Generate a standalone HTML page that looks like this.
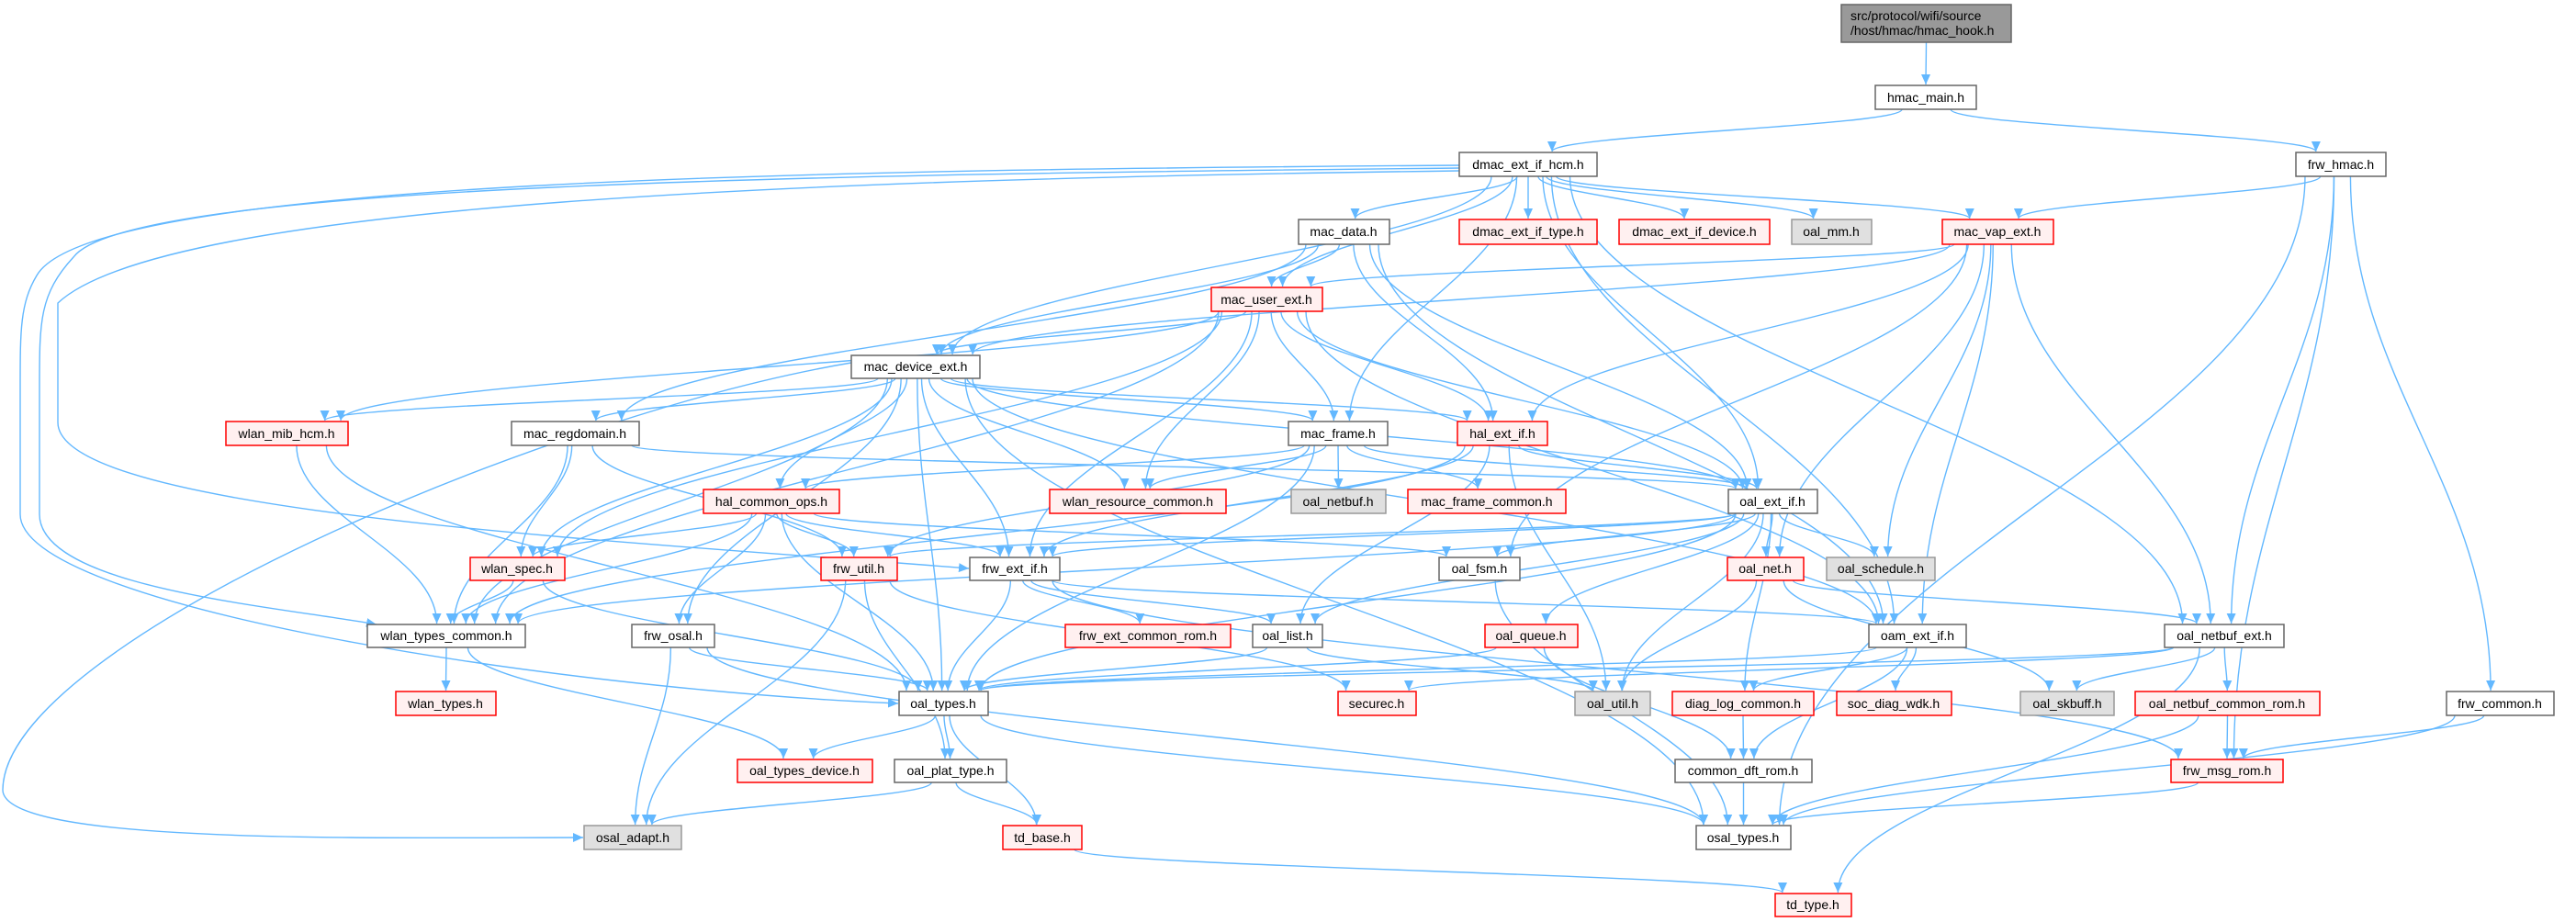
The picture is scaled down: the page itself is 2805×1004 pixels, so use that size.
<!DOCTYPE html>
<html><head><meta charset="utf-8">
<style>
html,body{margin:0;padding:0;background:#fff;}
svg{display:block;}
text{font-family:"Liberation Sans",sans-serif;font-size:14px;fill:#000;}
</style></head>
<body>
<svg id="g" xmlns="http://www.w3.org/2000/svg" width="2805" height="1004" viewBox="0 0 2805 1004">
<defs>
<marker id="ah" markerUnits="userSpaceOnUse" markerWidth="12" markerHeight="12" viewBox="0 0 12 12" refX="11" refY="6" orient="auto">
<path d="M0,1 L11,6 L0,11 Z" fill="#63b8ff"/>
</marker>
</defs>
<g id="edges" fill="none" stroke="#63b8ff" stroke-width="1.4"></g>
<g id="nodes">
<rect x="2005" y="5" width="185" height="41" fill="#999" stroke="#666" stroke-width="1.5"/>
<text x="2015" y="22">src/protocol/wifi/source</text>
<text x="2015" y="38">/host/hmac/hmac_hook.h</text>
</g>
</svg>
<script>
var N={
hmain:[2042,93,2152,119,'n'],
dhcm:[1589,166,1739,192,'n'],
fhmac:[2500,166,2598,192,'n'],
mdata:[1414,239,1513,266,'n'],
dtype:[1589,239,1739,266,'r'],
ddev:[1763,239,1927,266,'r'],
oalmm:[1951,239,2038,266,'g'],
mvap:[2115,239,2236,266,'r'],
muser:[1319,313,1440,339,'r'],
mdev:[927,387,1067,412,'n'],
wmib:[246,459,379,485,'r'],
mreg:[557,459,696,485,'n'],
mframe:[1403,459,1511,485,'n'],
hal:[1587,459,1685,485,'r'],
hco:[766,533,914,559,'r'],
wres:[1143,533,1335,559,'r'],
netbuf:[1406,533,1509,559,'g'],
mfc:[1533,533,1705,559,'r'],
oext:[1882,533,1979,559,'n'],
wspec:[512,607,615,632,'r'],
futil:[894,607,977,632,'r'],
fext:[1056,607,1154,632,'n'],
ofsm:[1567,607,1655,632,'n'],
onet:[1881,607,1964,632,'r'],
osched:[1989,607,2107,632,'g'],
wtc:[400,680,572,705,'n'],
fosal:[688,680,778,705,'n'],
fecr:[1160,680,1340,705,'r'],
olist:[1364,680,1440,705,'n'],
oqueue:[1617,680,1718,705,'r'],
oam:[2035,680,2141,705,'n'],
onbe:[2357,680,2487,705,'n'],
wtypes:[431,753,540,779,'r'],
otypes:[979,753,1076,779,'n'],
securec:[1457,753,1542,779,'r'],
outil:[1715,753,1797,779,'g'],
diag:[1821,753,1975,779,'r'],
socd:[2000,753,2125,779,'r'],
skb:[2200,753,2302,779,'g'],
oncr:[2325,753,2526,779,'r'],
fcommon:[2664,753,2781,779,'n'],
otd:[803,827,950,852,'r'],
oplat:[974,827,1096,852,'n'],
cdft:[1824,827,1973,852,'n'],
fmsg:[2364,827,2486,852,'r'],
osadapt:[636,899,742,925,'g'],
tdbase:[1092,899,1178,925,'r'],
osal:[1847,899,1950,925,'n'],
tdtype:[1933,973,2016,998,'r'],
hook:[2005,5,2190,46,'x']
};
var E=[
'hook hmain','hmain dhcm','hmain fhmac',
'dhcm mdata','dhcm dtype','dhcm ddev','dhcm oalmm','dhcm mvap','dhcm muser','dhcm mdev','dhcm mframe','dhcm oext','dhcm oam','dhcm onbe',
'fhmac mvap','fhmac onbe','fhmac osal','fhmac fmsg','fhmac fcommon',
'mvap muser','mvap mdev','mvap hal','mvap ofsm','mvap osched','mvap oam','mvap onbe','mvap onet',
'mdata muser','mdata mdev','mdata mreg','mdata hal','mdata oext','mdata oam',
'muser mdev','muser wmib','muser wtc','muser wspec','muser mframe','muser hal','muser wres','muser fext','muser oext','muser oam',
'mdev wmib','mdev mreg','mdev hco','mdev wspec','mdev wtc','mdev fosal','mdev fext','mdev wres','mdev mframe','mdev hal','mdev oext','mdev oam','mdev osal','mdev otypes',
'wmib wtc','wmib otypes',
'mreg wspec','mreg wtc','mreg oext','mreg futil',
'mframe hco','mframe wres','mframe netbuf','mframe mfc','mframe oext','mframe futil','mframe otypes',
'hal oext','hal fext','hal olist','hal wtc','hal outil',
'hco wspec','hco wtc','hco futil','hco fext','hco fosal','hco otypes','hco ofsm',
'oext onet','oext osched','oext ofsm','oext oqueue','oext olist','oext outil','oext diag','oext futil','oext fext','oext wtc','oext otypes',
'wspec wtc','wspec otypes',
'futil oplat','futil osadapt','futil securec',
'fext otypes','fext fecr','fext olist','fext oam','fext fmsg',
'wtc wtypes','wtc otd',
'fosal otypes','fosal osadapt','fosal osal',
'olist otypes','olist outil',
'otypes otd','otypes oplat','otypes tdbase','otypes osal',
'oplat osadapt','oplat tdbase','tdbase tdtype',
'ofsm osal','onet onbe','onet skb','onet outil',
'oqueue otypes','oqueue cdft',
'oam diag','oam socd','oam cdft','oam otypes',
'onbe skb','onbe oncr','onbe securec','onbe tdtype','onbe otypes',
'oncr fmsg','oncr osal','diag cdft','cdft osal','fmsg osal','fcommon fmsg','fcommon osal'
];
var g=document.getElementById('edges');
function P(d){var p=document.createElementNS('http://www.w3.org/2000/svg','path');p.setAttribute('d',d);p.setAttribute('marker-end','url(#ah)');g.appendChild(p);}
E.forEach(function(e){var a=e.split(' '),s=N[a[0]],t=N[a[1]];if(!s||!t)return;
var scx=(s[0]+s[2])/2,tcx=(t[0]+t[2])/2;
var sx=scx+(tcx-scx)*0.06;sx=Math.max(s[0]+8,Math.min(s[2]-8,sx));
var sy=s[3],tx=tcx+(scx-tcx)*0.06,ty=t[1]-1;
tx=Math.max(t[0]+8,Math.min(t[2]-8,tx));
var dy=ty-sy;
P('M'+sx+','+sy+' C'+sx+','+(sy+dy*0.4)+' '+tx+','+(ty-dy*0.4)+' '+tx+','+ty);});
P('M1589,180 C900,185 100,195 40,300 C22,330 22,360 22,420 L22,560 C22,660 600,750 978,766');
P('M1589,183 C900,190 140,200 80,280 C43,320 43,350 43,420 L43,560 C43,640 300,660 410,680');
P('M1589,186 C900,195 180,220 63,330 L63,460 C63,560 700,590 1055,619');
P('M927,395 C600,450 5,700 3,860 C3,920 400,912 635,912');
(function(){var ns='http://www.w3.org/2000/svg',ng=document.getElementById('nodes');
for(var k in N){var n=N[k];if(n[4]==='x')continue;var r=document.createElementNS(ns,'rect');
r.setAttribute('x',n[0]);r.setAttribute('y',n[1]);r.setAttribute('width',n[2]-n[0]);r.setAttribute('height',n[3]-n[1]);
var f='#fff',st='#666';if(n[4]==='r'){f='#fff0f0';st='#ff0000';}if(n[4]==='g'){f='#e0e0e0';st='#999';}
r.setAttribute('fill',f);r.setAttribute('stroke',st);r.setAttribute('stroke-width','1.5');
ng.insertBefore(r,ng.firstChild);}})();
</script>
<svg style="position:absolute;left:0;top:0" width="2805" height="1004" viewBox="0 0 2805 1004" text-anchor="middle">
<text x="2097" y="111">hmac_main.h</text>
<text x="1664" y="184">dmac_ext_if_hcm.h</text>
<text x="2549" y="184">frw_hmac.h</text>
<text x="1463" y="257">mac_data.h</text>
<text x="1664" y="257">dmac_ext_if_type.h</text>
<text x="1845" y="257">dmac_ext_if_device.h</text>
<text x="1994" y="257">oal_mm.h</text>
<text x="2175" y="257">mac_vap_ext.h</text>
<text x="1379" y="331">mac_user_ext.h</text>
<text x="997" y="404">mac_device_ext.h</text>
<text x="312" y="477">wlan_mib_hcm.h</text>
<text x="626" y="477">mac_regdomain.h</text>
<text x="1457" y="477">mac_frame.h</text>
<text x="1636" y="477">hal_ext_if.h</text>
<text x="840" y="551">hal_common_ops.h</text>
<text x="1239" y="551">wlan_resource_common.h</text>
<text x="1457" y="551">oal_netbuf.h</text>
<text x="1619" y="551">mac_frame_common.h</text>
<text x="1930" y="551">oal_ext_if.h</text>
<text x="563" y="624">wlan_spec.h</text>
<text x="935" y="624">frw_util.h</text>
<text x="1105" y="624">frw_ext_if.h</text>
<text x="1611" y="624">oal_fsm.h</text>
<text x="1922" y="624">oal_net.h</text>
<text x="2048" y="624">oal_schedule.h</text>
<text x="486" y="697">wlan_types_common.h</text>
<text x="733" y="697">frw_osal.h</text>
<text x="1250" y="697">frw_ext_common_rom.h</text>
<text x="1402" y="697">oal_list.h</text>
<text x="1667" y="697">oal_queue.h</text>
<text x="2088" y="697">oam_ext_if.h</text>
<text x="2422" y="697">oal_netbuf_ext.h</text>
<text x="485" y="771">wlan_types.h</text>
<text x="1027" y="771">oal_types.h</text>
<text x="1499" y="771">securec.h</text>
<text x="1756" y="771">oal_util.h</text>
<text x="1898" y="771">diag_log_common.h</text>
<text x="2062" y="771">soc_diag_wdk.h</text>
<text x="2251" y="771">oal_skbuff.h</text>
<text x="2425" y="771">oal_netbuf_common_rom.h</text>
<text x="2722" y="771">frw_common.h</text>
<text x="876" y="844">oal_types_device.h</text>
<text x="1035" y="844">oal_plat_type.h</text>
<text x="1898" y="844">common_dft_rom.h</text>
<text x="2425" y="844">frw_msg_rom.h</text>
<text x="689" y="917">osal_adapt.h</text>
<text x="1135" y="917">td_base.h</text>
<text x="1898" y="917">osal_types.h</text>
<text x="1974" y="990">td_type.h</text>
</svg>
</body></html>
